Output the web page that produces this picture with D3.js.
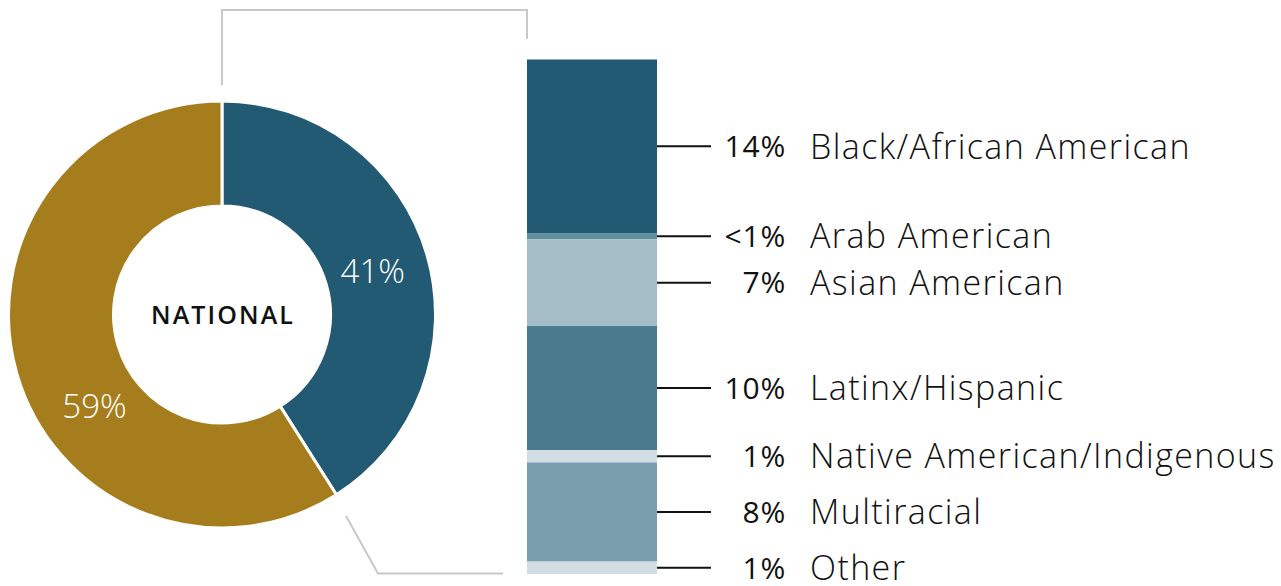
<!DOCTYPE html>
<html>
<head>
<meta charset="utf-8">
<script src="https://cdn.jsdelivr.net/npm/d3@7"></script>
<style>
  html, body { margin: 0; padding: 0; background: #fff; }
  svg { display: block; font-family: "Open Sans", Lato, sans-serif; }
</style>
</head>
<body>
<svg id="chart" width="1281" height="586"></svg>
<script>
// National share split into two groups
const donutNames = ["People of color", "White"];
const donutValues = [41, 59];
const donutLabels = ["41%", "59%"];
const donutColors = ["#215a72", "#a67d1c"];

// Breakdown of the 41% by race / ethnicity
const groups = ["Black/African American", "Arab American", "Asian American",
  "Latinx/Hispanic", "Native American/Indigenous", "Multiracial", "Other"];
const groupValues = [14, 0.5, 7, 10, 1, 8, 1];
const groupLabels = ["14%", "<1%", "7%", "10%", "1%", "8%", "1%"];
const groupColors = ["#215a72", "#5f8e9d", "#a5bdc7", "#4a7a8d", "#d2dde3", "#799eae", "#d2dde3"];

const svg = d3.select("#chart");

// ---- donut ----
const cx = 222, cy = 314.5, rOuter = 213.5, rInner = 108.5;
const pie = d3.pie().sort(null).value(d => d)(donutValues);
const arc = d3.arc().innerRadius(rInner).outerRadius(rOuter);
const donut = svg.append("g").attr("transform", `translate(${cx},${cy})`);

donut.selectAll("path")
  .data(pie)
  .join("path")
  .attr("d", arc)
  .attr("fill", (d, i) => donutColors[i])
  .attr("stroke", "#fff")
  .attr("stroke-width", 3);

// label angles (radians from 12 o'clock) and radius for the two slice labels
const labelAngles = [pie[0].startAngle + (pie[0].endAngle - pie[0].startAngle) / 2, 4.09];
const labelR = 157;
donut.selectAll("text.pct")
  .data(pie)
  .join("text")
  .attr("class", "pct")
  .attr("x", (d, i) => labelR * Math.sin(labelAngles[i]))
  .attr("y", (d, i) => -labelR * Math.cos(labelAngles[i]))
  .attr("dy", "0.36em")
  .attr("text-anchor", "middle")
  .attr("fill", "#fff")
  .attr("font-size", 33)
  .attr("font-weight", 300)
  .text((d, i) => donutLabels[i]);

donut.append("text")
  .attr("x", 1).attr("y", 0)
  .attr("dy", "0.36em")
  .attr("text-anchor", "middle")
  .attr("font-size", 25)
  .attr("font-weight", 600)
  .attr("letter-spacing", 2.1)
  .attr("fill", "#111")
  .text("NATIONAL");

// ---- stacked bar ----
const barX = 527, barW = 130, barTop = 59.5, barBottom = 574;
let acc = 0;
const stacked = groupValues.map((v, i) => {
  const d = { name: groups[i], value: v, y0: acc, y1: acc + v, i };
  acc += v;
  return d;
});
const y = d3.scaleLinear().domain([0, acc]).range([barTop, barBottom]);

svg.append("g").selectAll("rect")
  .data(stacked)
  .join("rect")
  .attr("x", barX)
  .attr("width", barW)
  .attr("y", d => y(d.y0))
  .attr("height", d => y(d.y1) - y(d.y0))
  .attr("fill", d => groupColors[d.i]);

// leader lines and labels
const lineX2 = 711, pctX = 786, nameX = 810;
const labels = svg.append("g").selectAll("g")
  .data(stacked)
  .join("g")
  .attr("transform", d => `translate(0,${(y(d.y0) + y(d.y1)) / 2})`);

labels.append("line")
  .attr("x1", barX + barW).attr("x2", lineX2)
  .attr("stroke", "#111").attr("stroke-width", 2);

labels.append("text")
  .attr("x", pctX)
  .attr("dy", "0.36em")
  .attr("text-anchor", "end")
  .attr("font-size", 30)
  .attr("font-weight", 500)
  .attr("letter-spacing", 0.8)
  .attr("fill", "#111")
  .text(d => groupLabels[d.i]);

labels.append("text")
  .attr("x", nameX)
  .attr("dy", "0.36em")
  .attr("font-size", 34)
  .attr("font-weight", 300)
  .attr("letter-spacing", 1.4)
  .attr("fill", "#111")
  .text(d => d.name);

// ---- connector brackets ----
const bracket = d3.line();
svg.append("path")
  .attr("d", bracket([[222, 85], [222, 10], [527, 10], [527, 39]]))
  .attr("fill", "none").attr("stroke", "#c8c8c8").attr("stroke-width", 2);
svg.append("path")
  .attr("d", bracket([[346, 516], [378, 573.5], [503, 573.5]]))
  .attr("fill", "none").attr("stroke", "#c8c8c8").attr("stroke-width", 2);
</script>
</body>
</html>
